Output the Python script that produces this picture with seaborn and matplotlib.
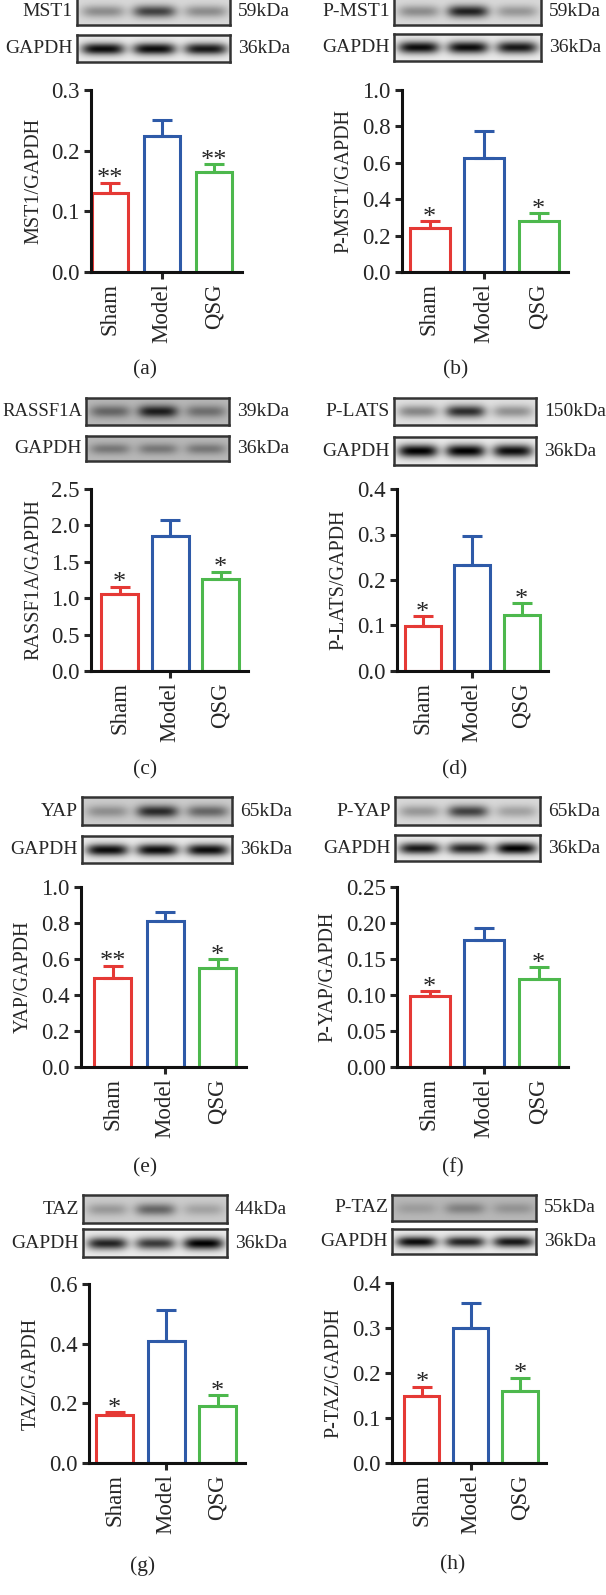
import numpy as np
import pandas as pd
import matplotlib
matplotlib.use("Agg")
import matplotlib.pyplot as plt
import seaborn as sns

# data
groups = ["Sham", "Model", "QSG"]
bar_colors = ["#E53935", "#2E5AA8", "#4DB84D"]

mst1_mean = [0.131, 0.224, 0.165]
mst1_err = [0.0165, 0.027, 0.013]
mst1_stars = ["**", "", "**"]

pmst1_mean = [0.24, 0.625, 0.278]
pmst1_err = [0.04, 0.15, 0.046]
pmst1_stars = ["*", "", "*"]

rassf_mean = [1.055, 1.858, 1.266]
rassf_err = [0.105, 0.21, 0.10]
rassf_stars = ["*", "", "*"]

plats_mean = [0.099, 0.233, 0.1226]
plats_err = [0.022, 0.063, 0.027]
plats_stars = ["*", "", "*"]

yap_mean = [0.493, 0.809, 0.552]
yap_err = [0.07, 0.05, 0.047]
yap_stars = ["**", "", "*"]

pyap_mean = [0.0985, 0.1757, 0.122]
pyap_err = [0.007, 0.017, 0.0165]
pyap_stars = ["*", "", "*"]

taz_mean = [0.1606, 0.409, 0.1907]
taz_err = [0.01, 0.104, 0.038]
taz_stars = ["*", "", "*"]

ptaz_mean = [0.150, 0.301, 0.161]
ptaz_err = [0.02, 0.055, 0.029]
ptaz_stars = ["*", "", "*"]

ylabels = ["MST1/GAPDH", "P-MST1/GAPDH", "RASSF1A/GAPDH", "P-LATS/GAPDH",
           "YAP/GAPDH", "P-YAP/GAPDH", "TAZ/GAPDH", "P-TAZ/GAPDH"]
yticks = [np.arange(0, 0.31, 0.1), np.arange(0, 1.01, 0.2), np.arange(0, 2.51, 0.5),
          np.arange(0, 0.41, 0.1), np.arange(0, 1.01, 0.2), np.arange(0, 0.251, 0.05),
          np.arange(0, 0.61, 0.2), np.arange(0, 0.41, 0.1)]
ytick_fmt = ["%.1f"] * 5 + ["%.2f"] + ["%.1f"] * 2
captions = ["(a)", "(b)", "(c)", "(d)", "(e)", "(f)", "(g)", "(h)"]

blot_names = ["MST1", "P-MST1", "RASSF1A", "P-LATS", "YAP", "P-YAP", "TAZ", "P-TAZ"]
blot_kda = ["59kDa", "59kDa", "39kDa", "150kDa", "65kDa", "65kDa", "44kDa", "55kDa"]
# band darkness per lane (target protein, GAPDH)
target_bands = [[0.35, 0.7, 0.35], [0.35, 0.85, 0.3], [0.45, 0.85, 0.4], [0.4, 0.8, 0.35],
                [0.3, 0.8, 0.5], [0.3, 0.7, 0.25], [0.25, 0.5, 0.2], [0.15, 0.3, 0.2]]
gapdh_bands = [[0.95, 0.95, 0.9], [0.95, 0.95, 0.9], [0.35, 0.35, 0.35], [1.0, 1.0, 0.95],
               [0.95, 0.95, 0.95], [0.9, 0.85, 1.0], [0.85, 0.75, 1.0], [0.95, 0.85, 0.9]]
blot_bg = [(0.85, 0.92), (0.85, 0.92), (0.72, 0.72), (0.88, 0.92),
           (0.8, 0.92), (0.85, 0.92), (0.8, 0.92), (0.72, 0.92)]

means = [mst1_mean, pmst1_mean, rassf_mean, plats_mean, yap_mean, pyap_mean, taz_mean, ptaz_mean]
errs = [mst1_err, pmst1_err, rassf_err, plats_err, yap_err, pyap_err, taz_err, ptaz_err]
stars = [mst1_stars, pmst1_stars, rassf_stars, plats_stars, yap_stars, pyap_stars, taz_stars, ptaz_stars]

# pixel layout: axis left, axis right, top y, zero y, bar centers, bar width,
# blot left, blot right, strip1 (top,bottom), strip2 (top,bottom), caption (x,y)
layout = [
    dict(l=91, r=242, t=90, z=272, c=(110, 162, 214), w=36, bl=77, br=230, s1=(-3, 25), s2=(35, 62), cap=(145, 370)),
    dict(l=402, r=568, t=90, z=272, c=(430, 484, 539), w=40, bl=394, br=541, s1=(-3, 25), s2=(34, 61), cap=(456, 370)),
    dict(l=91, r=248, t=489, z=671, c=(118, 170, 219), w=37, bl=86, br=229, s1=(398, 425), s2=(436, 461), cap=(145, 770)),
    dict(l=397, r=548, t=489, z=671, c=(423, 472, 522), w=36, bl=394, br=536, s1=(398, 425), s2=(437, 465), cap=(455, 770)),
    dict(l=81, r=246, t=887, z=1067, c=(113, 165, 218), w=37, bl=82, br=232, s1=(797, 825), s2=(836, 863), cap=(145, 1168)),
    dict(l=397, r=568, t=887, z=1067, c=(430, 484, 539), w=40, bl=395, br=540, s1=(797, 825), s2=(835, 861), cap=(453, 1168)),
    dict(l=89, r=245, t=1284, z=1463, c=(115, 166, 218), w=37, bl=83, br=227, s1=(1195, 1223), s2=(1229, 1257), cap=(143, 1566)),
    dict(l=392, r=546, t=1283, z=1463, c=(421, 471, 519), w=35, bl=392, br=536, s1=(1195, 1221), s2=(1229, 1254), cap=(453, 1565)),
]

W, H = 606, 1595
sns.set_style("ticks")
plt.rcParams["font.family"] = ["Liberation Serif", "DejaVu Serif"]
plt.rcParams["axes.linewidth"] = 2.2

fig = plt.figure(figsize=(W / 100, H / 100), dpi=100)


def rect(l, r, t, b):
    return [l / W, 1 - b / H, (r - l) / W, (b - t) / H]


def blot_image(bands, bg):
    hh, ww = 30, 150
    yy, xx = np.mgrid[0:hh, 0:ww]
    img = np.full((hh, ww), bg)
    for k, amp in enumerate(bands):
        cx = ww * (k + 0.5) / 3
        prof = np.exp(-((xx - cx) / (ww * 0.14)) ** 4) * np.exp(-((yy - hh / 2) / (hh * 0.22)) ** 2)
        img = img - amp * bg * prof
    return np.clip(img, 0, 1)


for i, L in enumerate(layout):
    # blots
    for s, (strip, bands, bgc, name) in enumerate(zip([L["s1"], L["s2"]],
                                                     [target_bands[i], gapdh_bands[i]],
                                                     blot_bg[i], [blot_names[i], "GAPDH"])):
        bax = fig.add_axes(rect(L["bl"], L["br"], strip[0], strip[1]))
        bax.imshow(blot_image(bands, bgc), cmap="gray", vmin=0, vmax=1, aspect="auto",
                   interpolation="bilinear")
        bax.set_xticks([])
        bax.set_yticks([])
        for sp in bax.spines.values():
            sp.set_linewidth(1.8)
            sp.set_color("#333333")
        ymid = 1 - (strip[0] + strip[1]) / 2 / H
        fs = 13.5 if len(name) > 6 else 14
        fig.text((L["bl"] - 4) / W, ymid, name, ha="right", va="center", fontsize=fs)
        fig.text((L["br"] + 8) / W, ymid, blot_kda[i] if s == 0 else "36kDa",
                 ha="left", va="center", fontsize=14)

    # bar chart
    ax = fig.add_axes(rect(L["l"], L["r"], L["t"], L["z"]))
    df = pd.DataFrame({"group": groups, "value": means[i]})
    c1, c2, c3 = L["c"]
    unit = (c3 - c1) / 2
    sns.barplot(data=df, x="group", y="value", hue="group", palette=bar_colors,
                fill=False, linewidth=2.2, width=L["w"] / unit, errorbar=None,
                legend=False, ax=ax)
    for k in range(3):
        ax.errorbar(k, means[i][k], yerr=[[0], [errs[i][k]]], fmt="none",
                    ecolor=bar_colors[k], elinewidth=2.2, capsize=7, capthick=2.2, zorder=3)
        if stars[i][k]:
            ax.annotate(stars[i][k], (k, means[i][k] + errs[i][k]), xytext=(0, -2),
                        textcoords="offset points", ha="center", va="baseline", fontsize=19)
    # Model sits at category position 1
    ax.set_xlim(1 + (L["l"] - c2) / unit, 1 + (L["r"] - c2) / unit)
    ax.set_ylim(0, yticks[i][-1])
    ax.set_yticks(yticks[i])
    ax.set_yticklabels([ytick_fmt[i] % v for v in yticks[i]])
    sns.despine(ax=ax)
    ax.set_xlabel("")
    ax.set_ylabel(ylabels[i], fontsize=14.5, labelpad=6)
    ax.tick_params(axis="y", length=5, width=2.2, pad=3, labelsize=16.5)
    ax.tick_params(axis="x", length=5, width=2.2, pad=3, labelsize=16.5, labelrotation=90)
    xt = ax.xaxis.get_major_ticks()
    xt[0].tick1line.set_visible(False)
    xt[2].tick1line.set_visible(False)
    for sp in ax.spines.values():
        sp.set_color("#111111")

    fig.text(L["cap"][0] / W, 1 - L["cap"][1] / H, captions[i], ha="center", va="center", fontsize=15.5)

fig.savefig("out.png", dpi=100)
